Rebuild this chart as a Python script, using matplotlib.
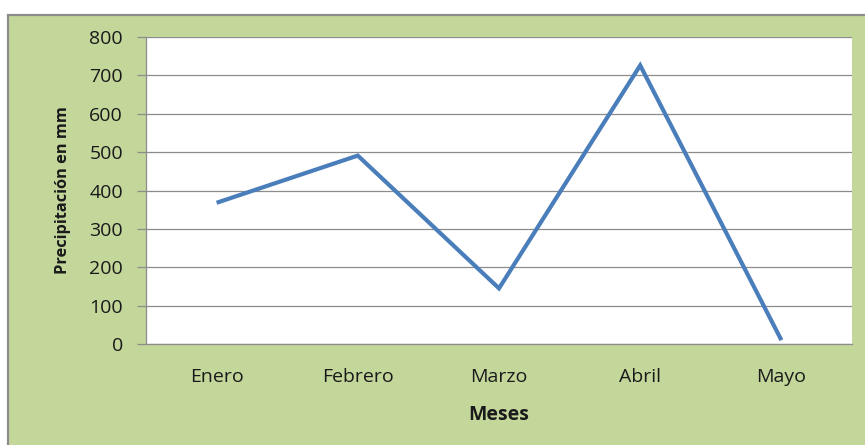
import matplotlib
matplotlib.use("Agg")
import matplotlib.pyplot as plt
from matplotlib.patches import Rectangle

months = ["Enero", "Febrero", "Marzo", "Abril", "Mayo"]
precip = [368, 491, 145, 726, 10]
yticks = [0, 100, 200, 300, 400, 500, 600, 700, 800]

W, H = 865, 445
fig = plt.figure(figsize=(W / 100, H / 100), dpi=100)
fig.patch.set_facecolor("white")

green = "#C4D79B"
gray = "#8C8C8C"
bg = Rectangle((8 / W, -0.05), 1.2, (H - 15) / H + 0.05,
               transform=fig.transFigure, facecolor=green,
               edgecolor=gray, linewidth=1.6, zorder=-10)
fig.add_artist(bg)

ax = fig.add_axes([146 / W, (H - 344) / H, 706 / W, 307 / H])
ax.set_zorder(5)
ax.set_facecolor("white")
x = list(range(len(months)))
ax.plot(x, precip, color="#4A7EBB", linewidth=3, solid_capstyle="butt",
        solid_joinstyle="miter", zorder=3)
ax.set_xlim(-0.5, len(months) - 0.5)
ax.set_ylim(0, 800)
ax.set_yticks(yticks)
ax.set_xticks(x)
ax.set_xticklabels(months)
ax.yaxis.grid(True, color=gray, linewidth=0.9)
ax.set_axisbelow(True)
for s in ["top", "right"]:
    ax.spines[s].set_visible(False)
for s in ["left", "bottom"]:
    ax.spines[s].set_color(gray)
    ax.spines[s].set_linewidth(0.9)
ax.tick_params(axis="y", length=6.5, color=gray, width=0.9, pad=10,
               labelsize=14, labelcolor="#1a1a1a")
ax.tick_params(axis="x", length=0, pad=17, labelsize=14, labelcolor="#1a1a1a")
for lab in ax.get_xticklabels() + ax.get_yticklabels():
    lab.set_family("Open Sans")
ax.set_ylabel("Precipitación en mm", fontsize=11.8, fontweight="bold",
              family="Open Sans", color="#1a1a1a", labelpad=13)
ax.set_xlabel("Meses", fontsize=14, fontweight="bold", family="Open Sans",
              color="#1a1a1a", labelpad=14)

fig.savefig("out.png", dpi=100, facecolor=fig.get_facecolor())
